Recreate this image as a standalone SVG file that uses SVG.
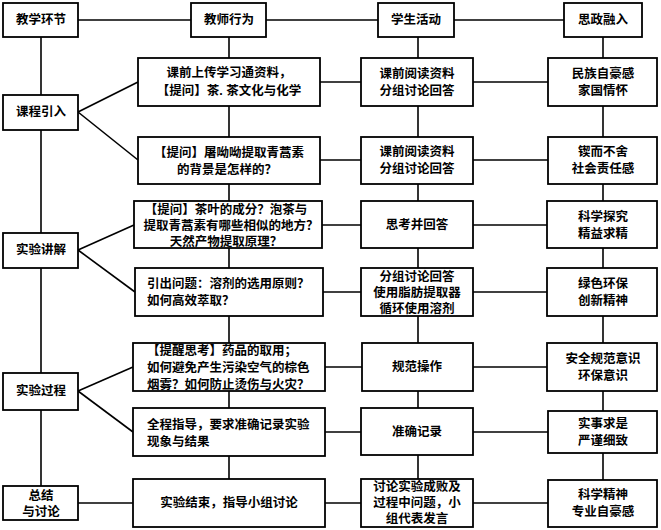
<svg xmlns="http://www.w3.org/2000/svg" width="661" height="530" viewBox="0 0 661 530">
<style>
.b{fill:#fff;stroke:#000;stroke-width:1.8}
.c{stroke:#000;stroke-width:1.6;fill:none}
text{font-family:"Liberation Sans","Noto Sans CJK SC",sans-serif;font-size:12.5px;font-weight:bold;fill:#000;dominant-baseline:central}
.m{text-anchor:middle}
</style>
<rect width="661" height="530" fill="#fff"/>
<g id="connectors" class="c">
<line x1="78" y1="20" x2="564" y2="20"/>
<line x1="41" y1="37" x2="41" y2="486"/>
<line x1="229" y1="37" x2="229" y2="479"/>
<line x1="418" y1="37" x2="418" y2="479"/>
<line x1="603" y1="37" x2="603" y2="480"/>
<line x1="320" y1="82" x2="548" y2="82"/>
<line x1="320" y1="160" x2="548" y2="160"/>
<line x1="322" y1="225" x2="548" y2="225"/>
<line x1="323" y1="292" x2="548" y2="292"/>
<line x1="325" y1="367" x2="548" y2="367"/>
<line x1="325" y1="432" x2="548" y2="432"/>
<line x1="78" y1="503" x2="548" y2="503"/>
<line x1="78" y1="112" x2="138" y2="82"/>
<line x1="78" y1="112" x2="138" y2="160"/>
<line x1="78" y1="250" x2="134" y2="225"/>
<line x1="78" y1="250" x2="135" y2="292"/>
<line x1="78" y1="391" x2="133" y2="367"/>
<line x1="78" y1="391" x2="133" y2="432"/>
</g>
<g id="h1"><rect class="b" x="3" y="3" width="75" height="34"/><text class="m" x="41" y="20">教学环节</text></g>
<g id="h2"><rect class="b" x="191" y="3" width="75" height="34"/><text class="m" x="229" y="20">教师行为</text></g>
<g id="h3"><rect class="b" x="378" y="3" width="76" height="34"/><text class="m" x="416" y="20">学生活动</text></g>
<g id="h4"><rect class="b" x="564" y="3" width="78" height="34"/><text class="m" x="603" y="20">思政融入</text></g>
<g id="s1"><rect class="b" x="3" y="95" width="75" height="35"/><text class="m" x="41" y="112">课程引入</text></g>
<g id="s2"><rect class="b" x="3" y="233" width="75" height="35"/><text class="m" x="41" y="250">实验讲解</text></g>
<g id="s3"><rect class="b" x="3" y="373" width="75" height="37"/><text class="m" x="41" y="391">实验过程</text></g>
<g id="s4"><rect class="b" x="3" y="486" width="75" height="34"/><text class="m" x="41" y="496">总结<tspan x="41" dy="16">与讨论</tspan></text></g>
<g id="t1"><rect class="b" x="138" y="58" width="182" height="48"/><text class="m" x="229" y="73">课前上传学习通资料，<tspan x="229" dy="18">【提问】茶. 茶文化与化学</tspan></text></g>
<g id="t2"><rect class="b" x="138" y="137" width="182" height="47"/><text class="m" x="229" y="153">【提问】屠呦呦提取青蒿素<tspan x="227" dy="17">的背景是怎样的？</tspan></text></g>
<g id="t3"><rect class="b" x="134" y="201" width="188" height="47"/><text class="m" x="226" y="210">【提问】茶叶的成分？泡茶与<tspan x="231" dy="16">提取青蒿素有哪些相似的地方？</tspan><tspan x="226" dy="16">天然产物提取原理？</tspan></text></g>
<g id="t4"><rect class="b" x="135" y="268" width="188" height="48"/><text x="147" y="284">引出问题：溶剂的选用原则？<tspan x="147" dy="17">如何高效萃取？</tspan></text></g>
<g id="t5"><rect class="b" x="133" y="343" width="192" height="48"/><text x="147" y="351">【提醒思考】药品的取用；<tspan x="147" dy="17">如何避免产生污染空气的棕色</tspan><tspan x="147" dy="17">烟雾？如何防止烫伤与火灾？</tspan></text></g>
<g id="t6"><rect class="b" x="133" y="408" width="192" height="48"/><text x="147" y="425">全程指导，要求准确记录实验<tspan x="147" dy="17">现象与结果</tspan></text></g>
<g id="t7"><rect class="b" x="133" y="479" width="192" height="48"/><text class="m" x="229" y="503">实验结束，指导小组讨论</text></g>
<g id="a1"><rect class="b" x="361" y="58" width="112" height="48"/><text class="m" x="417" y="74">课前阅读资料<tspan x="417" dy="17">分组讨论回答</tspan></text></g>
<g id="a2"><rect class="b" x="361" y="137" width="112" height="47"/><text class="m" x="417" y="152">课前阅读资料<tspan x="417" dy="17">分组讨论回答</tspan></text></g>
<g id="a3"><rect class="b" x="361" y="201" width="112" height="47"/><text class="m" x="417" y="225">思考并回答</text></g>
<g id="a4"><rect class="b" x="361" y="268" width="112" height="48"/><text class="m" x="417" y="277">分组讨论回答<tspan x="417" dy="16">使用脂肪提取器</tspan><tspan x="417" dy="16">循环使用溶剂</tspan></text></g>
<g id="a5"><rect class="b" x="362" y="343" width="111" height="48"/><text class="m" x="417" y="367">规范操作</text></g>
<g id="a6"><rect class="b" x="361" y="408" width="112" height="47"/><text class="m" x="417" y="432">准确记录</text></g>
<g id="a7"><rect class="b" x="361" y="479" width="112" height="48"/><text class="m" x="417" y="487">讨论实验成败及<tspan x="417" dy="16">过程中问题，小</tspan><tspan x="417" dy="16">组代表发言</tspan></text></g>
<g id="i1"><rect class="b" x="548" y="58" width="109" height="48"/><text class="m" x="603" y="74">民族自豪感<tspan x="603" dy="17">家国情怀</tspan></text></g>
<g id="i2"><rect class="b" x="548" y="137" width="109" height="47"/><text class="m" x="603" y="152">锲而不舍<tspan x="603" dy="17">社会责任感</tspan></text></g>
<g id="i3"><rect class="b" x="547" y="201" width="110" height="47"/><text class="m" x="603" y="217">科学探究<tspan x="603" dy="17">精益求精</tspan></text></g>
<g id="i4"><rect class="b" x="547" y="268" width="110" height="48"/><text class="m" x="603" y="284">绿色环保<tspan x="603" dy="17">创新精神</tspan></text></g>
<g id="i5"><rect class="b" x="547" y="343" width="110" height="48"/><text class="m" x="603" y="359">安全规范意识<tspan x="603" dy="17">环保意识</tspan></text></g>
<g id="i6"><rect class="b" x="548" y="411" width="109" height="42"/><text class="m" x="603" y="424">实事求是<tspan x="603" dy="17">严谨细致</tspan></text></g>
<g id="i7"><rect class="b" x="548" y="480" width="109" height="47"/><text class="m" x="603" y="495">科学精神<tspan x="603" dy="17">专业自豪感</tspan></text></g>
</svg>
